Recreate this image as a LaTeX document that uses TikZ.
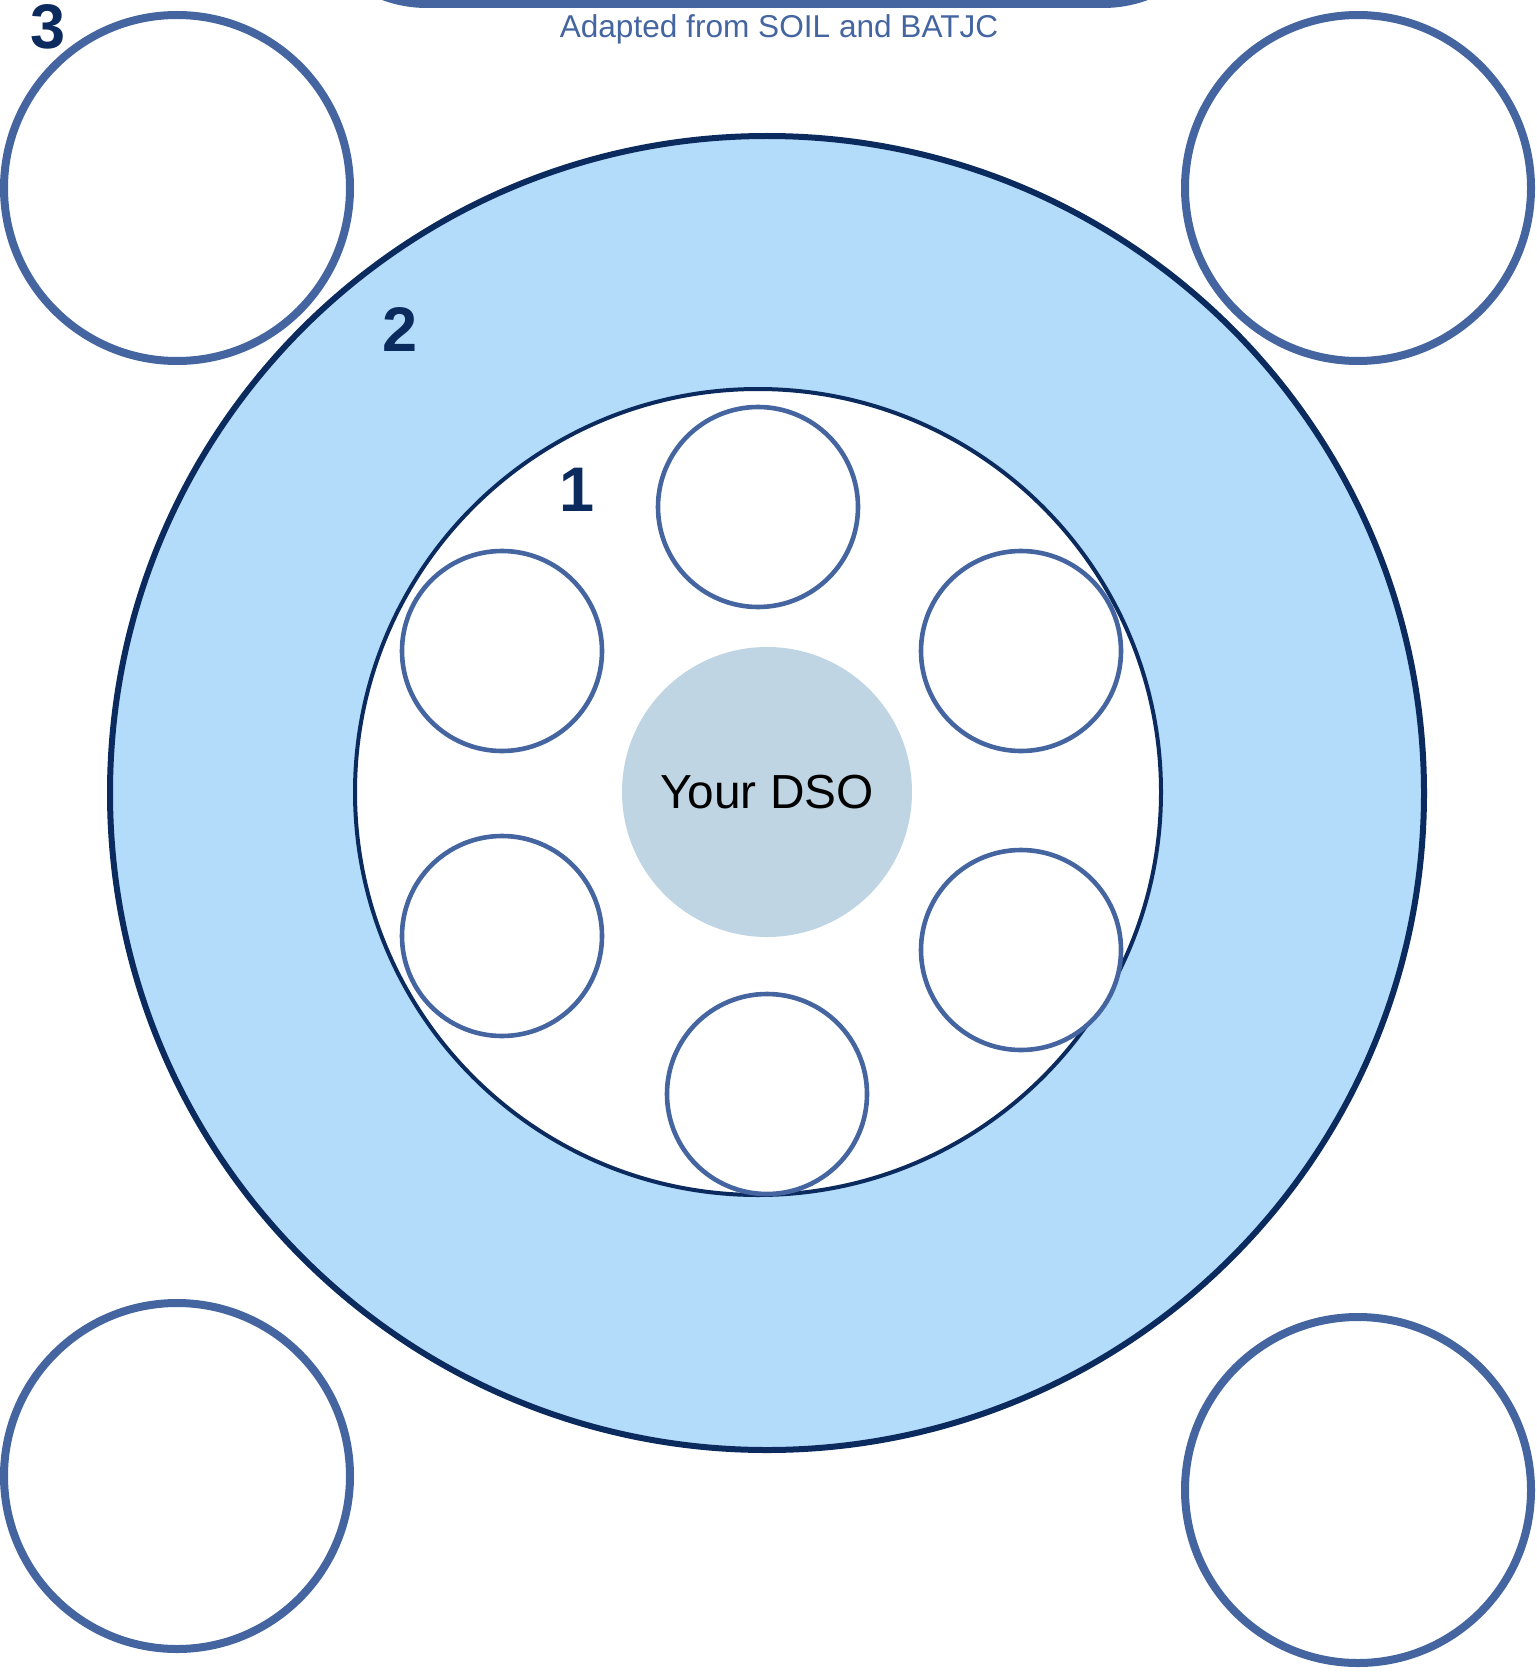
\documentclass[tikz,border=0pt]{standalone}
\usepackage{fontspec}
\setmainfont{Liberation Sans}
\definecolor{ringblue}{RGB}{179,219,250}
\definecolor{navy}{RGB}{11,42,94}
\definecolor{midblue}{RGB}{68,101,160}
\definecolor{dsoblue}{RGB}{191,213,228}
\tikzset{
  smallc/.style={circle, draw=midblue, line width=2.3pt, fill=white, inner sep=0pt, minimum size=100pt},
  cornerc/.style={circle, draw=midblue, line width=4pt, fill=white, inner sep=0pt, minimum size=173pt},
  numlbl/.style={text=navy, font=\fontsize{31.5}{36}\selectfont\bfseries, inner sep=0pt},
}
\begin{document}
\begin{tikzpicture}[x=0.5pt,y=-0.5pt]
\useasboundingbox (0,0) rectangle (1536,1680);
\clip (0,0) rectangle (1536,1680);
% top banner (cut off)
\fill[midblue, rounded corners=65pt] (297,-300) rectangle (1233,8);
\node[text=midblue, font=\fontsize{15.8}{19}\selectfont] (credit) at (779,29) {Adapted from SOIL and BATJC};
% rings
\node[circle, draw=navy, line width=3pt, fill=ringblue, inner sep=0pt, minimum size=657pt] (outer) at (767,793) {};
\node[circle, draw=navy, line width=2pt, fill=white, inner sep=0pt, minimum size=403pt] (inner) at (758,792) {};
\node[circle, fill=dsoblue, inner sep=0pt, minimum size=145pt, font=\fontsize{23.9}{28}\selectfont] (dso) at (767,792) {Your DSO};
% inner small circles
\node[smallc] (s1) at (758,507) {};
\node[smallc] (s2) at (502,651) {};
\node[smallc] (s3) at (1021,651) {};
\node[smallc] (s4) at (502,936) {};
\node[smallc] (s5) at (1021,950) {};
\node[smallc] (s6) at (767,1094) {};
% corner circles
\node[cornerc] (c1) at (177,188) {};
\node[cornerc] (c2) at (1358,188) {};
\node[cornerc] (c3) at (177,1476) {};
\node[cornerc] (c4) at (1358,1490) {};
% level labels
\node[numlbl] (l3) at (48,27) {3};
\node[numlbl] (l2) at (400,330) {2};
\node[numlbl] (l1) at (577,490) {1};
\end{tikzpicture}
\end{document}
